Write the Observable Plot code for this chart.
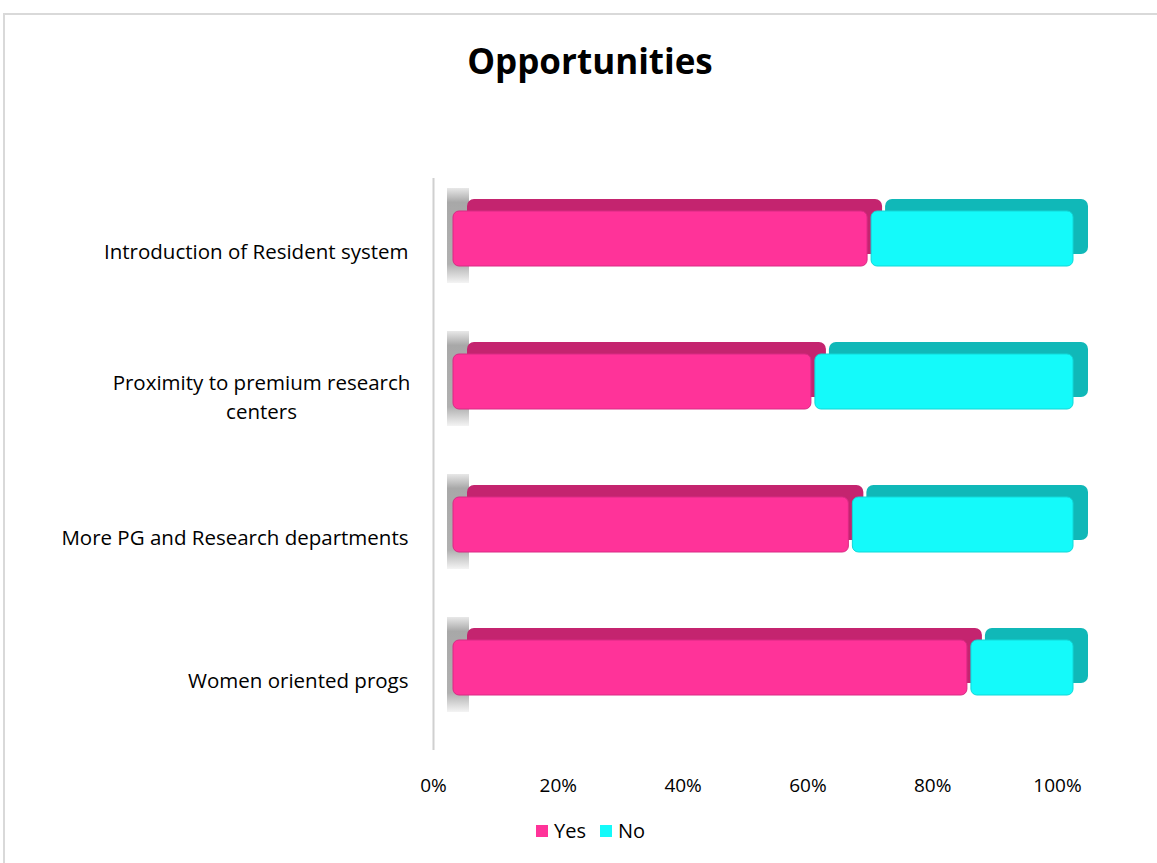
<!DOCTYPE html>
<html>
<head>
<meta charset="utf-8">
<script src="https://cdn.jsdelivr.net/npm/d3@7"></script>
<script src="https://cdn.jsdelivr.net/npm/@observablehq/plot@0.6"></script>
<style>
  html, body { margin: 0; padding: 0; background: #fff; }
  body { width: 1157px; height: 863px; position: relative; overflow: hidden; font-family: "Open Sans", Lato, sans-serif; }
  #frame { position: absolute; left: 3px; top: 13px; width: 1160px; height: 860px; border-left: 2px solid #d9d9d9; border-top: 2px solid #d9d9d9; box-sizing: border-box; }
  #title { position: absolute; left: 0; top: 37px; width: 1180px; text-align: center; font-family: "Open Sans", Lato, sans-serif; font-weight: bold; font-size: 35px; color: #000; }
  #chart { position: absolute; left: 0; top: 100px; }
  #legend { position: absolute; top: 817px; left: 536px; display: flex; align-items: center; font-size: 20px; color: #000; }
  .sw { display: inline-block; width: 12px; height: 12px; margin-right: 6px; }
  .item { display: flex; align-items: center; margin-right: 14px; }
</style>
</head>
<body>
<div id="frame"></div>
<div id="title">Opportunities</div>
<div id="chart"></div>
<div id="legend"></div>
<script>
const categories = [
  "Introduction of Resident system",
  "Proximity to premium research centers",
  "More PG and Research departments",
  "Women oriented progs"
];
const categoryLines = [
  ["Introduction of Resident system"],
  ["Proximity to premium research", "centers"],
  ["More PG and Research departments"],
  ["Women oriented progs"]
];
const yesValues = [67, 58, 64, 83];
const noValues = [33, 42, 36, 17];
const seriesNames = ["Yes", "No"];
const frontColors = ["#FF3399", "#14FAFA"];
const topColors = ["#C4246F", "#10B8B8"];
const xTicks = [0, 20, 40, 60, 80, 100];

const rows = [];
categories.forEach((c, i) => {
  rows.push({cat: c, series: "Yes", x1: 0, x2: yesValues[i]});
  rows.push({cat: c, series: "No", x1: yesValues[i], x2: yesValues[i] + noValues[i]});
});
const labels = categories.map((c, i) => ({cat: c, text: categoryLines[i].join("\n"), lines: categoryLines[i].length}));

const frontFill = d => frontColors[seriesNames.indexOf(d.series)];
const topFill = d => topColors[seriesNames.indexOf(d.series)];

const inset = 44;
const chart = Plot.plot({
  width: 1157,
  height: 710,
  marginLeft: 433,
  marginRight: 100,
  marginTop: 78,
  marginBottom: 60,
  style: {fontFamily: "'Open Sans', Lato, sans-serif", background: "transparent"},
  x: {domain: [0, 100], ticks: xTicks, tickFormat: d => d + "%", label: null},
  y: {domain: categories, range: [66.5, 638.5], padding: 0, axis: null},
  marks: [
    Plot.ruleX([0], {stroke: "#d0d0d0", strokeWidth: 2}),
    // wall shadows
    Plot.barX(categories, {x1: 0, x2: 0, y: d => d, fill: "url(#wallShade)", insetLeft: 0, insetRight: -22, dx: 14, insetTop: 21, insetBottom: 27}),
    // back (top/side) faces
    Plot.barX(rows, {x1: "x1", x2: "x2", y: "cat", fill: topFill, dx: 34, dy: -12, insetTop: inset, insetBottom: inset, insetRight: 3, rx: 7}),
    // front faces
    Plot.barX(rows, {x1: "x1", x2: "x2", y: "cat", fill: frontFill, dx: 20, insetTop: inset, insetBottom: inset, insetRight: 4, rx: 6, stroke: d => d.series === "Yes" ? "#d92a84" : "#10d8d8", strokeWidth: 1}),
    Plot.axisX({ticks: xTicks, tickFormat: d => d + "%", tickSize: 0, tickPadding: 28, fontSize: 19, fill: "#000", label: null}),
    Plot.text(labels.filter(d => d.lines === 1), {y: "cat", text: "text", frameAnchor: "left", dx: -25, dy: 13, textAnchor: "end", fontSize: 20.5, fill: "#000"}),
    Plot.text(labels.filter(d => d.lines > 1), {y: "cat", text: "text", frameAnchor: "left", dx: -172, dy: 13, textAnchor: "middle", fontSize: 20.5, lineHeight: 1.4, fill: "#000"})
  ]
});
const svg = d3.select(chart);
const defs = svg.insert("defs", ":first-child");
const g = defs.append("linearGradient").attr("id", "wallShade").attr("x1", 0).attr("y1", 0).attr("x2", 0).attr("y2", 1);
g.append("stop").attr("offset", "0").attr("stop-color", "#e8e8e8");
g.append("stop").attr("offset", "0.15").attr("stop-color", "#a8a8a8");
g.append("stop").attr("offset", "0.8").attr("stop-color", "#b0b0b0");
g.append("stop").attr("offset", "1").attr("stop-color", "#f4f4f4");
document.getElementById("chart").appendChild(chart);

const legend = document.getElementById("legend");
seriesNames.forEach((s, i) => {
  const item = document.createElement("div");
  item.className = "item";
  const sw = document.createElement("span");
  sw.className = "sw";
  sw.style.background = frontColors[i];
  item.appendChild(sw);
  item.appendChild(document.createTextNode(s));
  legend.appendChild(item);
});
</script>
</body>
</html>
